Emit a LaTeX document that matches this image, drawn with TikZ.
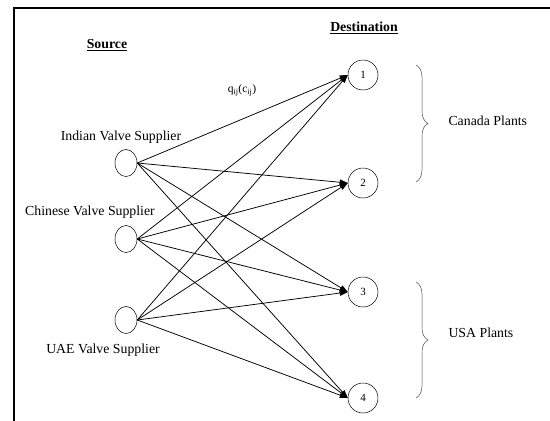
\documentclass[tikz,border=0pt]{standalone}
\usepackage{fontspec}
\setmainfont{Liberation Serif}
\usetikzlibrary{arrows.meta,shapes.geometric,decorations.pathreplacing}

\begin{document}
\begin{tikzpicture}[x=1pt,y=-1pt,
        src/.style={draw, ellipse, inner sep=0pt, minimum width=22pt, minimum height=27pt, line width=0.5pt},
        dst/.style={draw, circle, inner sep=0pt, minimum size=30pt, line width=0.5pt, font=\fontsize{11}{13}\selectfont},
        lbl/.style={font=\fontsize{13.8}{16}\selectfont},
        flow/.style={-{Triangle[length=8pt,width=5.5pt]}, line width=0.75pt},
        grp/.style={decorate, decoration={brace, amplitude=12pt}, line width=0.5pt, black!70}]
        \useasboundingbox (0,0) rectangle (550,421);
        % Draw frame
        \draw[line width=2pt] (14,421) -- (14,8) -- (550,8);

        % Headings
        \node[lbl, font=\fontsize{13.8}{16}\selectfont\bfseries] (srchead) at (107,45) {\underline{Source}};
        \node[lbl, font=\fontsize{13.8}{16}\selectfont\bfseries] (dsthead) at (364,28) {\underline{Destination}};

        % Suppliers
        \node[src] (s1) at (126,163) {};
        \node[src] (s2) at (126,239) {};
        \node[src] (s3) at (126,320) {};
        \node[lbl] (s1lbl) at (121,137) {Indian Valve Supplier};
        \node[lbl] (s2lbl) at (90,212) {Chinese Valve Supplier};
        \node[lbl] (s3lbl) at (103,350) {UAE Valve Supplier};

        % Plants
        \node[dst] (d1) at (363,75) {1};
        \node[dst] (d2) at (363,183) {2};
        \node[dst] (d3) at (363,292) {3};
        \node[dst] (d4) at (363,398) {4};

        % Shipments from every supplier to every plant
        \foreach \i in {1,2,3}
            \foreach \j in {1,2,3,4}
                \draw[flow] (s\i.east) -- (d\j.west);
        \node[font=\fontsize{11.5}{13}\selectfont] (cost) at (242,90) {q\textsubscript{ij}(c\textsubscript{ij})};

        % Group the plants
        \draw[grp] (416,65) -- (416,182);
        \draw[grp] (416,282) -- (416,398);
        \node[lbl, anchor=west] (canada) at (445,121) {Canada Plants};
        \node[lbl, anchor=west] (usa) at (445,333) {USA Plants};
\end{tikzpicture}
\end{document}
